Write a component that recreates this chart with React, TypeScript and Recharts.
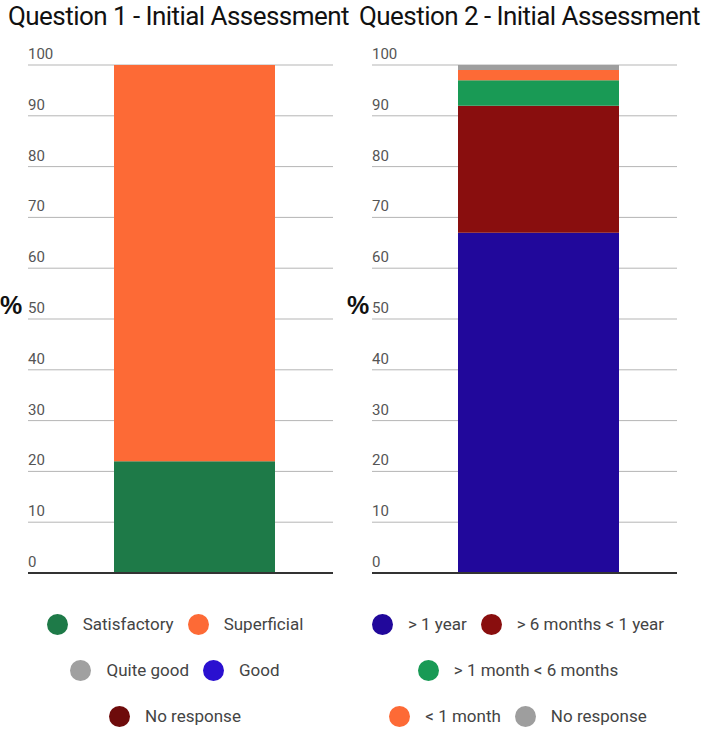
import React from 'react';
import { BarChart, Bar, XAxis, YAxis, CartesianGrid, ReferenceLine } from 'recharts';

// Question 1
const q1Title = 'Question 1 - Initial Assessment';
const q1Names = ['Satisfactory', 'Superficial', 'Quite good', 'Good', 'No response'];
const q1Values = [22, 78, 0, 0, 0];
const q1Colors = ['#1e7a48', '#fd6a36', '#a0a0a0', '#2a10d0', '#6e0b0b'];
const q1LegendRows = [[0, 1], [2, 3], [4]];

// Question 2
const q2Title = 'Question 2 - Initial Assessment';
const q2Names = ['> 1 year', '> 6 months < 1 year', '> 1 month < 6 months', '< 1 month', 'No response'];
const q2Values = [67, 25, 5, 2, 1];
const q2Colors = ['#21089b', '#890e0e', '#199a55', '#fd6a36', '#9e9e9e'];
const q2LegendRows = [[0, 1], [2], [3, 4]];

const yTicks = [0, 10, 20, 30, 40, 50, 60, 70, 80, 90, 100];

const FONT = 'Roboto, "Liberation Sans", Arial, sans-serif';

type PanelProps = {
  title: string;
  names: string[];
  values: number[];
  colors: string[];
  legendRows: number[][];
  left: number;
  titleLeft: number;
  pctLeft: number;
  legendLeft: number;
  legendWidth: number;
};

const Panel: React.FC<PanelProps> = ({ title, names, values, colors, legendRows, left, titleLeft, pctLeft, legendLeft, legendWidth }) => {
  const row: Record<string, number | string> = { name: 'q' };
  names.forEach((n, i) => { row['s' + i] = values[i]; });
  const data = [row];

  const renderTick = (props: any) => (
    <text x={28} y={props.y - 6} fill="#555" fontSize={15} fontFamily={FONT} textAnchor="start">
      {props.payload.value}
    </text>
  );

  return (
    <>
      <div style={{ position: 'absolute', left: titleLeft, top: 0, fontFamily: FONT, fontSize: 26, lineHeight: '32px', letterSpacing: -0.55, color: '#111', whiteSpace: 'nowrap' }}>
        {title}
      </div>
      <div style={{ position: 'absolute', left: pctLeft, top: 291, fontFamily: 'Arial, "Liberation Sans", sans-serif', fontWeight: 700, fontSize: 25, color: '#111', lineHeight: '28px' }}>%</div>
      <div style={{ position: 'absolute', left, top: 0 }}>
        <BarChart width={354} height={600} data={data} margin={{ top: 65, left: 0, right: 21, bottom: 27 }} barSize={161}>
          <CartesianGrid vertical={false} stroke="#b5b5b5" />
          <XAxis dataKey="name" hide padding={{ left: 28, right: 0 }} />
          <YAxis width={28} domain={[0, 100]} ticks={yTicks} axisLine={false} tickLine={false} tick={renderTick} interval={0} />
          {names.map((n, i) => (
            <Bar key={n} dataKey={'s' + i} name={n} stackId="a" fill={colors[i]} isAnimationActive={false} />
          ))}
          <ReferenceLine y={0} stroke="#333" strokeWidth={2} />
        </BarChart>
      </div>
      <div style={{ position: 'absolute', left: legendLeft, top: 601, width: legendWidth, fontFamily: FONT, fontSize: 17, color: '#444' }}>
        {legendRows.map((r, ri) => (
          <div key={ri} style={{ height: 46, display: 'flex', justifyContent: 'center', alignItems: 'center' }}>
            {r.map(i => (
              <div key={i} style={{ display: 'flex', alignItems: 'center', margin: '0 7px' }}>
                <span style={{ width: 21, height: 21, borderRadius: '50%', background: colors[i], display: 'inline-block', marginRight: 15 }} />
                <span style={{ whiteSpace: 'nowrap' }}>{names[i]}</span>
              </div>
            ))}
          </div>
        ))}
      </div>
    </>
  );
};

export default function App() {
  return (
    <div style={{ position: 'absolute', left: 0, top: 0, width: 709, height: 729, background: '#fff', overflow: 'hidden' }}>
      <Panel title={q1Title} names={q1Names} values={q1Values} colors={q1Colors} legendRows={q1LegendRows}
        left={0} titleLeft={8} pctLeft={0} legendLeft={0} legendWidth={350} />
      <Panel title={q2Title} names={q2Names} values={q2Values} colors={q2Colors} legendRows={q2LegendRows}
        left={344} titleLeft={359} pctLeft={347} legendLeft={340} legendWidth={356} />
    </div>
  );
}
